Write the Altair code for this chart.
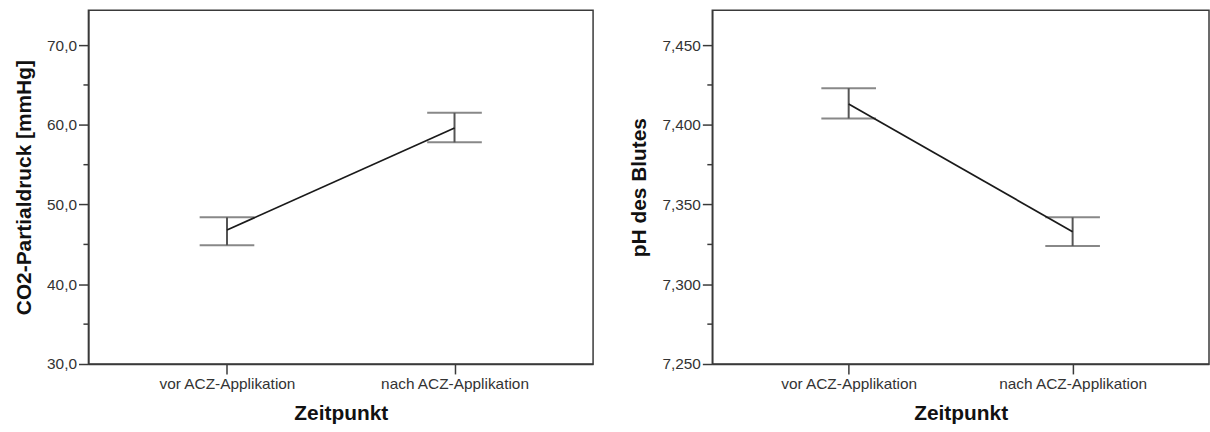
import altair as alt
import pandas as pd

# Zeitpunkte der Messung
zeitpunkte = ["vor ACZ-Applikation", "nach ACZ-Applikation"]

# CO2-Partialdruck [mmHg]: Mittelwert und 95%-Konfidenzintervall
co2_mittel = [46.8, 59.6]
co2_unten = [44.9, 57.8]
co2_oben = [48.4, 61.5]

# pH des Blutes: Mittelwert und 95%-Konfidenzintervall
ph_mittel = [7.413, 7.333]
ph_unten = [7.404, 7.324]
ph_oben = [7.423, 7.342]

# Haupt- und Zwischenstriche der y-Achsen
co2_haupt = [30, 40, 50, 60, 70]
co2_zwischen = [35, 45, 55, 65]
ph_haupt = [7.25, 7.30, 7.35, 7.40, 7.45]
ph_zwischen = [7.275, 7.325, 7.375, 7.425]

co2_df = pd.DataFrame({"Zeitpunkt": zeitpunkte, "mittel": co2_mittel,
                       "unten": co2_unten, "oben": co2_oben})
ph_df = pd.DataFrame({"Zeitpunkt": zeitpunkte, "mittel": ph_mittel,
                      "unten": ph_unten, "oben": ph_oben})

FONT = "Liberation Sans"
GRAU = "#3a3a3a"


def panel(df, titel, domain, haupt, zwischen, fmt, width):
    x = alt.X(
        "Zeitpunkt:N",
        sort=zeitpunkte,
        scale=alt.Scale(type="point", padding=0.609),
        axis=alt.Axis(title="Zeitpunkt", labelAngle=0, tickSize=10,
                      labelPadding=3, titlePadding=10),
    )
    y_scale = alt.Scale(domain=domain, nice=False, zero=False)
    y_axis = alt.Axis(
        title=titel,
        values=haupt,
        labelExpr=f"replace(format(datum.value, '{fmt}'), '.', ',')",
        tickSize=10,
        labelPadding=2,
        titlePadding=12,
        grid=False,
    )
    base = alt.Chart(df)
    fehler = base.mark_rule(color="#555555", strokeWidth=2).encode(
        x=x,
        y=alt.Y("unten:Q", scale=y_scale, axis=y_axis, title=titel),
        y2="oben:Q",
    )
    kappe_oben = base.mark_tick(color="#555555", thickness=2, size=55).encode(
        x=x, y=alt.Y("oben:Q", scale=y_scale, axis=y_axis, title=titel)
    )
    kappe_unten = base.mark_tick(color="#555555", thickness=2, size=55).encode(
        x=x, y=alt.Y("unten:Q", scale=y_scale, axis=y_axis, title=titel)
    )
    linie = base.mark_line(color="#1a1a1a", strokeWidth=1.7).encode(
        x=x, y=alt.Y("mittel:Q", scale=y_scale, axis=y_axis, title=titel)
    )
    # kurze Zwischenstriche links an der y-Achse
    striche = (
        alt.Chart(pd.DataFrame({"wert": zwischen}))
        .mark_rule(color=GRAU, strokeWidth=1.5)
        .encode(
            x=alt.value(-5),
            x2=alt.value(0),
            y=alt.Y("wert:Q", scale=y_scale, axis=y_axis, title=titel),
        )
    )
    return alt.layer(fehler, kappe_oben, kappe_unten, linie, striche).properties(
        width=width, height=356
    )


links = panel(co2_df, "CO2-Partialdruck [mmHg]", [30, 74.36], co2_haupt,
              co2_zwischen, ".1f", 508)
rechts = panel(ph_df, "pH des Blutes", [7.25, 7.4718], ph_haupt,
               ph_zwischen, ".3f", 500)

chart = (
    alt.hconcat(links, rechts, spacing=34)
    .properties(padding={"left": 13, "top": 8, "right": 0, "bottom": 0})
    .configure_view(stroke=GRAU, strokeWidth=1.5)
    .configure_axis(
        domainColor=GRAU,
        domainWidth=1.5,
        tickColor=GRAU,
        tickWidth=1.5,
        labelFont=FONT,
        labelFontSize=15.5,
        labelColor="#333333",
        titleFont=FONT,
        titleFontSize=21,
        titleFontWeight="bold",
        titleColor="#111111",
    )
)

chart.save("out.html", embed_options={"renderer": "svg", "actions": False})
